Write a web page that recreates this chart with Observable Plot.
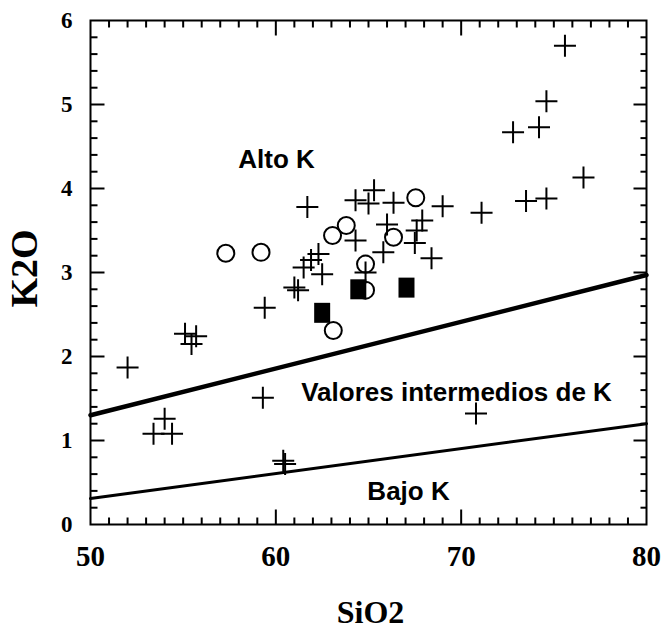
<!DOCTYPE html>
<html><head><meta charset="utf-8">
<script src="https://cdn.jsdelivr.net/npm/d3@7"></script>
<script src="https://cdn.jsdelivr.net/npm/@observablehq/plot@0.6"></script>
<style>body{margin:0;background:#fff}</style>
</head><body><div id="chart"></div>
<script>
// Crosses (+)
const crossSiO2 = [75.6,74.6,74.2,72.8,76.6,74.6,73.5,71.1,69.0,68.4,67.9,67.6,67.5,66.0,66.35,65.0,65.3,64.3,64.3,65.8,64.84,61.7,62.3,62.5,61.5,61.9,61.0,61.2,59.4,52.0,55.1,55.45,55.7,59.3,54.0,53.4,54.4,60.4,60.5,70.8];
const crossK2O  = [5.70,5.04,4.73,4.67,4.13,3.88,3.85,3.71,3.79,3.17,3.62,3.50,3.35,3.57,3.83,3.82,3.98,3.86,3.38,3.24,3.00,3.78,3.22,2.98,3.06,3.15,2.82,2.79,2.58,1.87,2.27,2.15,2.24,1.51,1.26,1.08,1.08,0.76,0.72,1.32];
// Open circles
const circleSiO2 = [57.3,59.2,63.06,63.8,67.55,66.35,64.84,64.84,63.1];
const circleK2O  = [3.23,3.24,3.44,3.56,3.89,3.42,3.10,2.79,2.31];
// Filled squares
const squareSiO2 = [62.5,64.45,67.05];
const squareK2O  = [2.52,2.80,2.82];
// Boundary lines
const lineSiO2 = [50,80];
const upperK2O = [1.30,2.97];
const lowerK2O = [0.31,1.20];
// Region labels
const regionNames = ["Alto K","Valores intermedios de K","Bajo K"];
const regionSiO2 = [60.04,69.75,67.16];
const regionK2O = [4.25,1.476,0.286];
// Ticks
const xTickLabels = [50,60,70,80];
const yTickLabels = [0,1,2,3,4,5,6];
const xMinor = d3.range(51,80).filter(v => v !== 60 && v !== 70);
const xMajor = [60,70];
const yMinor = d3.range(1,30).filter(i => i % 5 !== 0).map(i => i/5);
const yMajor = [1,2,3,4,5];

const crosses = crossSiO2.map((x,i) => ({x, y: crossK2O[i]}));
const circles = circleSiO2.map((x,i) => ({x, y: circleK2O[i]}));
const squares = squareSiO2.map((x,i) => ({x, y: squareK2O[i]}));
const upper = lineSiO2.map((x,i) => ({x, y: upperK2O[i]}));
const lower = lineSiO2.map((x,i) => ({x, y: lowerK2O[i]}));
const regions = regionNames.map((t,i) => ({t, x: regionSiO2[i], y: regionK2O[i]}));

const crossSym = {draw(ctx, size){const r = Math.sqrt(size/Math.PI); ctx.moveTo(-r,0); ctx.lineTo(r,0); ctx.moveTo(0,-r); ctx.lineTo(0,r);}};
const rectSym = {draw(ctx, size){ctx.rect(-8,-10,16,20);}};
// tick-mark symbols (line segments pointing into the frame)
const tickSym = (dx, dy) => ({draw(ctx){ctx.moveTo(0,0); ctx.lineTo(dx,dy);}});

const serif = "'Liberation Serif', 'Times New Roman', serif";
const sans = "'Liberation Sans', Arial, sans-serif";

const tickStyle = {stroke: "black", strokeWidth: 2, fill: "none"};

const chart = Plot.plot({
  width: 666, height: 631,
  marginLeft: 90, marginRight: 20, marginTop: 20, marginBottom: 107,
  style: {background: "#fff", color: "#000"},
  x: {domain: [50,80]},
  y: {domain: [0,6]},
  marks: [
    Plot.frame({stroke: "black", strokeWidth: 2, fill: "none"}),
    Plot.axisX({ticks: xTickLabels, tickSize: 0, tickPadding: 21, tickFormat: d => String(d), fontSize: 29, fontWeight: "bold", fontFamily: serif, label: null}),
    Plot.axisY({ticks: yTickLabels, tickSize: 0, tickPadding: 18, tickFormat: d => String(d), fontSize: 23, fontWeight: "bold", fontFamily: serif, label: null}),
    // inward ticks
    Plot.dot(xMinor, {x: d => d, y: () => 0, symbol: tickSym(0, -7), ...tickStyle}),
    Plot.dot(xMajor, {x: d => d, y: () => 0, symbol: tickSym(0, -15), ...tickStyle}),
    Plot.dot(xMinor, {x: d => d, y: () => 6, symbol: tickSym(0, 7), ...tickStyle}),
    Plot.dot(xMajor, {x: d => d, y: () => 6, symbol: tickSym(0, 15), ...tickStyle}),
    Plot.dot(yMinor, {y: d => d, x: () => 50, symbol: tickSym(7, 0), ...tickStyle}),
    Plot.dot(yMajor, {y: d => d, x: () => 50, symbol: tickSym(14, 0), ...tickStyle}),
    Plot.dot(yMinor, {y: d => d, x: () => 80, symbol: tickSym(-6, 0), ...tickStyle}),
    Plot.dot(yMajor, {y: d => d, x: () => 80, symbol: tickSym(-13, 0), ...tickStyle}),
    // boundaries
    Plot.line(upper, {x: "x", y: "y", stroke: "black", strokeWidth: 4.5}),
    Plot.line(lower, {x: "x", y: "y", stroke: "black", strokeWidth: 3}),
    // data
    Plot.dot(circles, {x: "x", y: "y", r: 8.5, stroke: "black", strokeWidth: 2, fill: "none"}),
    Plot.dot(squares, {x: "x", y: "y", symbol: rectSym, fill: "black", stroke: "none"}),
    Plot.dot(crosses, {x: "x", y: "y", symbol: crossSym, r: 11, stroke: "black", strokeWidth: 2, fill: "none"}),
    // region labels
    Plot.text(regions, {x: "x", y: "y", text: "t", lineAnchor: "bottom", fontSize: 26, fontWeight: "bold", fontFamily: sans, fill: "black"}),
    // axis titles
    Plot.text(["K2O"], {frameAnchor: "left", textAnchor: "middle", lineAnchor: "middle", dx: -66, dy: -4, rotate: -90, fontSize: 38, fontWeight: "bold", fontFamily: serif, fill: "black"}),
    Plot.text(["SiO2"], {frameAnchor: "bottom", textAnchor: "middle", dx: 2, dy: 98, lineAnchor: "bottom", fontSize: 32, fontWeight: "bold", fontFamily: serif, fill: "black"})
  ]
});
document.getElementById("chart").appendChild(chart);
</script>
</body></html>
